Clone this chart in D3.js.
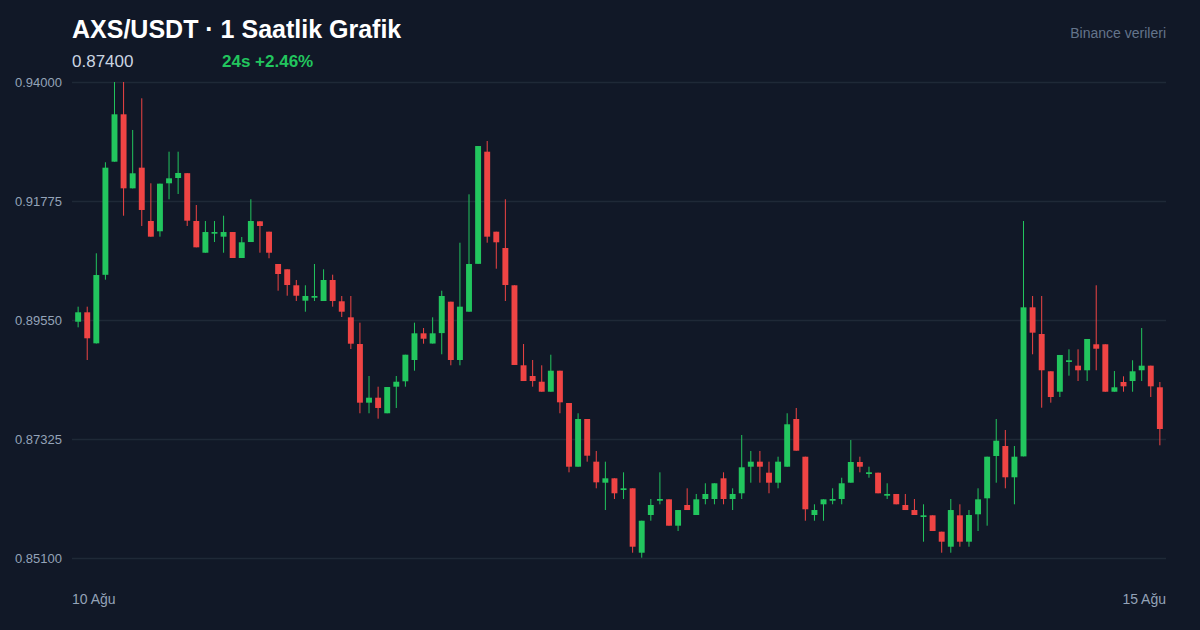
<!DOCTYPE html>
<html>
<head>
<meta charset="utf-8">
<script src="https://cdn.jsdelivr.net/npm/d3@7"></script>
<style>
  html, body { margin: 0; padding: 0; background: #111827; }
  svg { display: block; font-family: "Liberation Sans", Arial, sans-serif; }
</style>
</head>
<body>
<div id="chart"></div>
<script>
// hourly candles, 10 Ağu -> 15 Ağu
const opens = [
  0.89518,0.89694,0.89114,0.90395,0.92510,0.93396,0.92012,0.92398,0.91401,0.91209,
  0.92106,0.92205,0.92295,0.91401,0.90808,0.91164,0.91108,0.91195,0.90709,0.91008,
  0.91395,0.91201,0.90597,0.90498,0.90199,0.89911,0.89967,0.89905,0.90298,0.89900,
  0.89600,0.89101,0.88004,0.88097,0.87806,0.88303,0.88404,0.88802,0.89301,0.89110,
  0.89305,0.89892,0.88802,0.89705,0.90600,0.92697,0.91201,0.90896,0.90199,0.88703,
  0.88503,0.88396,0.88209,0.88602,0.87998,0.86807,0.87699,0.86901,0.86508,0.86590,
  0.86371,0.86403,0.85199,0.85904,0.86171,0.86197,0.85704,0.86091,0.85904,0.86203,
  0.86203,0.86590,0.86203,0.86310,0.86807,0.86901,0.86695,0.86508,0.86807,0.87699,
  0.86994,0.85904,0.86104,0.86171,0.86203,0.86508,0.86895,0.86671,0.86695,0.86265,
  0.86297,0.86091,0.85997,0.85867,0.85898,0.85592,0.85311,0.85898,0.85405,0.85917,
  0.86216,0.87007,0.87194,0.86609,0.87000,0.89787,0.89288,0.88591,0.88209,0.88765,
  0.88696,0.88610,0.89096,0.89096,0.88209,0.88391,0.88409,0.88610,0.88696,0.88292
];
const highs = [
  0.89799,0.89799,0.90797,0.92499,0.94000,0.94000,0.93103,0.93695,0.92106,0.92099,
  0.92697,0.92697,0.92295,0.91700,0.91401,0.91401,0.91500,0.91195,0.91102,0.91807,
  0.91400,0.91201,0.90597,0.90498,0.90298,0.90199,0.90597,0.90498,0.90397,0.89999,
  0.89999,0.89500,0.88503,0.88303,0.88297,0.88503,0.88901,0.89500,0.89400,0.89600,
  0.90098,0.89892,0.90995,0.91900,0.92803,0.92897,0.91201,0.91807,0.90199,0.89101,
  0.88802,0.88703,0.88901,0.88602,0.87998,0.87806,0.87699,0.87101,0.86901,0.86590,
  0.86702,0.86403,0.85797,0.86203,0.86702,0.86197,0.85997,0.86403,0.86297,0.86497,
  0.86497,0.86702,0.86403,0.87400,0.87101,0.87101,0.86901,0.86994,0.87806,0.87905,
  0.86994,0.86104,0.86197,0.86403,0.86601,0.87306,0.86994,0.86807,0.86695,0.86497,
  0.86297,0.86297,0.86203,0.86104,0.85898,0.85592,0.86203,0.86104,0.85997,0.86403,
  0.86994,0.87699,0.87493,0.87194,0.91401,0.89999,0.89999,0.88591,0.88896,0.89002,
  0.89002,0.89195,0.90199,0.89096,0.88596,0.88497,0.88797,0.89400,0.88696,0.88391
];
const lows = [
  0.89413,0.88802,0.89110,0.90304,0.92510,0.91500,0.92010,0.91308,0.91108,0.91108,
  0.91807,0.91906,0.91308,0.90909,0.90808,0.91008,0.90808,0.90709,0.90709,0.91008,
  0.90808,0.90704,0.90098,0.90004,0.89905,0.89705,0.89905,0.89905,0.89799,0.89606,
  0.89008,0.87806,0.87806,0.87705,0.87806,0.87905,0.88303,0.88602,0.89107,0.89110,
  0.88909,0.88703,0.88703,0.89705,0.90600,0.90995,0.90509,0.89905,0.88709,0.88409,
  0.88303,0.88209,0.88209,0.87806,0.86702,0.86807,0.86901,0.86403,0.85997,0.86203,
  0.86203,0.85199,0.85106,0.85797,0.86104,0.85704,0.85605,0.85997,0.85904,0.86104,
  0.86104,0.86104,0.85997,0.86203,0.86508,0.86508,0.86310,0.86403,0.86807,0.87106,
  0.85797,0.85797,0.85797,0.86104,0.86104,0.86508,0.86702,0.86601,0.86310,0.86203,
  0.86104,0.85997,0.85904,0.85405,0.85605,0.85199,0.85199,0.85311,0.85311,0.85605,
  0.85704,0.86508,0.86403,0.86104,0.87000,0.88909,0.87910,0.88004,0.88110,0.88509,
  0.88409,0.88409,0.88610,0.88209,0.88209,0.88209,0.88209,0.88409,0.88110,0.87207
];
const closes = [
  0.89694,0.89208,0.90391,0.92398,0.93396,0.92012,0.92293,0.91607,0.91108,0.92099,
  0.92199,0.92299,0.91407,0.90909,0.91195,0.91195,0.91195,0.90709,0.91003,0.91401,
  0.91308,0.90808,0.90410,0.90204,0.90004,0.89999,0.89999,0.90298,0.89905,0.89705,
  0.89107,0.88004,0.88097,0.87905,0.88297,0.88396,0.88901,0.89301,0.89200,0.89301,
  0.89999,0.88802,0.89799,0.90597,0.92803,0.91108,0.91003,0.90204,0.88709,0.88409,
  0.88409,0.88209,0.88602,0.88011,0.86807,0.87699,0.87013,0.86515,0.86590,0.86310,
  0.86403,0.85311,0.85797,0.86091,0.86203,0.85704,0.85997,0.85997,0.86197,0.86297,
  0.86497,0.86203,0.86297,0.86796,0.86901,0.86807,0.86508,0.86901,0.87600,0.87106,
  0.86011,0.85997,0.86197,0.86203,0.86497,0.86895,0.86807,0.86702,0.86310,0.86297,
  0.86104,0.85997,0.85904,0.85898,0.85605,0.85405,0.85997,0.85405,0.85904,0.86197,
  0.86994,0.87293,0.86609,0.86994,0.89787,0.89313,0.88610,0.88110,0.88896,0.88797,
  0.88610,0.89195,0.89013,0.88209,0.88292,0.88310,0.88591,0.88696,0.88310,0.87512
];
const yTicks = [0.851, 0.87325, 0.8955, 0.91775, 0.94];
const xLabels = ["10 Ağu", "15 Ağu"];
const lastPrice = "0.87400";
const change = "24s +2.46%";

const W = 1200, H = 630;
const margin = { top: 82, right: 34, bottom: 72, left: 72 };
const up = "#22c55e", down = "#ef4444";

const candles = opens.map((o, i) => ({ i, o, h: highs[i], l: lows[i], c: closes[i] }));

const svg = d3.select("#chart").append("svg")
  .attr("width", W).attr("height", H);

svg.append("rect").attr("width", W).attr("height", H).attr("fill", "#111827");

const x = d3.scaleBand()
  .domain(candles.map(d => d.i))
  .range([margin.left, W - margin.right])
  .padding(0.35);

const y = d3.scaleLinear()
  .domain([d3.min(yTicks), d3.max(yTicks)])
  .range([H - margin.bottom, margin.top]);

// grid + y labels
const yAxis = svg.append("g")
  .attr("transform", `translate(${margin.left},0)`)
  .call(d3.axisLeft(y)
    .tickValues(yTicks)
    .tickSize(-(W - margin.left - margin.right))
    .tickPadding(10)
    .tickFormat(d3.format(".5f")));
yAxis.select(".domain").remove();
yAxis.selectAll(".tick line").attr("stroke", "#1f2937").attr("stroke-width", 1.5);
yAxis.selectAll(".tick text")
  .attr("fill", "#94a3b8")
  .attr("font-size", 13)
  .attr("font-family", "Liberation Sans, Arial, sans-serif");

// candles
const g = svg.append("g");
const cx = d => x(d.i) + x.bandwidth() / 2;
const col = d => d.c >= d.o ? up : down;

g.selectAll("line.wick")
  .data(candles)
  .join("line")
  .attr("class", "wick")
  .attr("x1", cx).attr("x2", cx)
  .attr("y1", d => y(d.h)).attr("y2", d => y(d.l))
  .attr("stroke", col)
  .attr("stroke-width", 1);

g.selectAll("rect.body")
  .data(candles)
  .join("rect")
  .attr("class", "body")
  .attr("x", d => x(d.i))
  .attr("width", x.bandwidth())
  .attr("y", d => y(Math.max(d.o, d.c)))
  .attr("height", d => Math.max(1.5, Math.abs(y(d.o) - y(d.c))))
  .attr("fill", col);

// x labels
svg.append("text")
  .attr("x", margin.left).attr("y", 604)
  .attr("fill", "#94a3b8").attr("font-size", 14)
  .text(xLabels[0]);
svg.append("text")
  .attr("x", W - margin.right).attr("y", 604)
  .attr("text-anchor", "end")
  .attr("fill", "#94a3b8").attr("font-size", 14)
  .text(xLabels[1]);

// header
svg.append("text")
  .attr("x", 72).attr("y", 38)
  .attr("fill", "#ffffff").attr("font-size", 25).attr("font-weight", "bold")
  .text("AXS/USDT · 1 Saatlik Grafik");
svg.append("text")
  .attr("x", 72).attr("y", 67)
  .attr("fill", "#cbd5e1").attr("font-size", 17)
  .text(lastPrice);
svg.append("text")
  .attr("x", 222).attr("y", 67)
  .attr("fill", up).attr("font-size", 17).attr("font-weight", "bold")
  .text(change);
svg.append("text")
  .attr("x", W - margin.right).attr("y", 38)
  .attr("text-anchor", "end")
  .attr("fill", "#64748b").attr("font-size", 14)
  .text("Binance verileri");
</script>
</body>
</html>
